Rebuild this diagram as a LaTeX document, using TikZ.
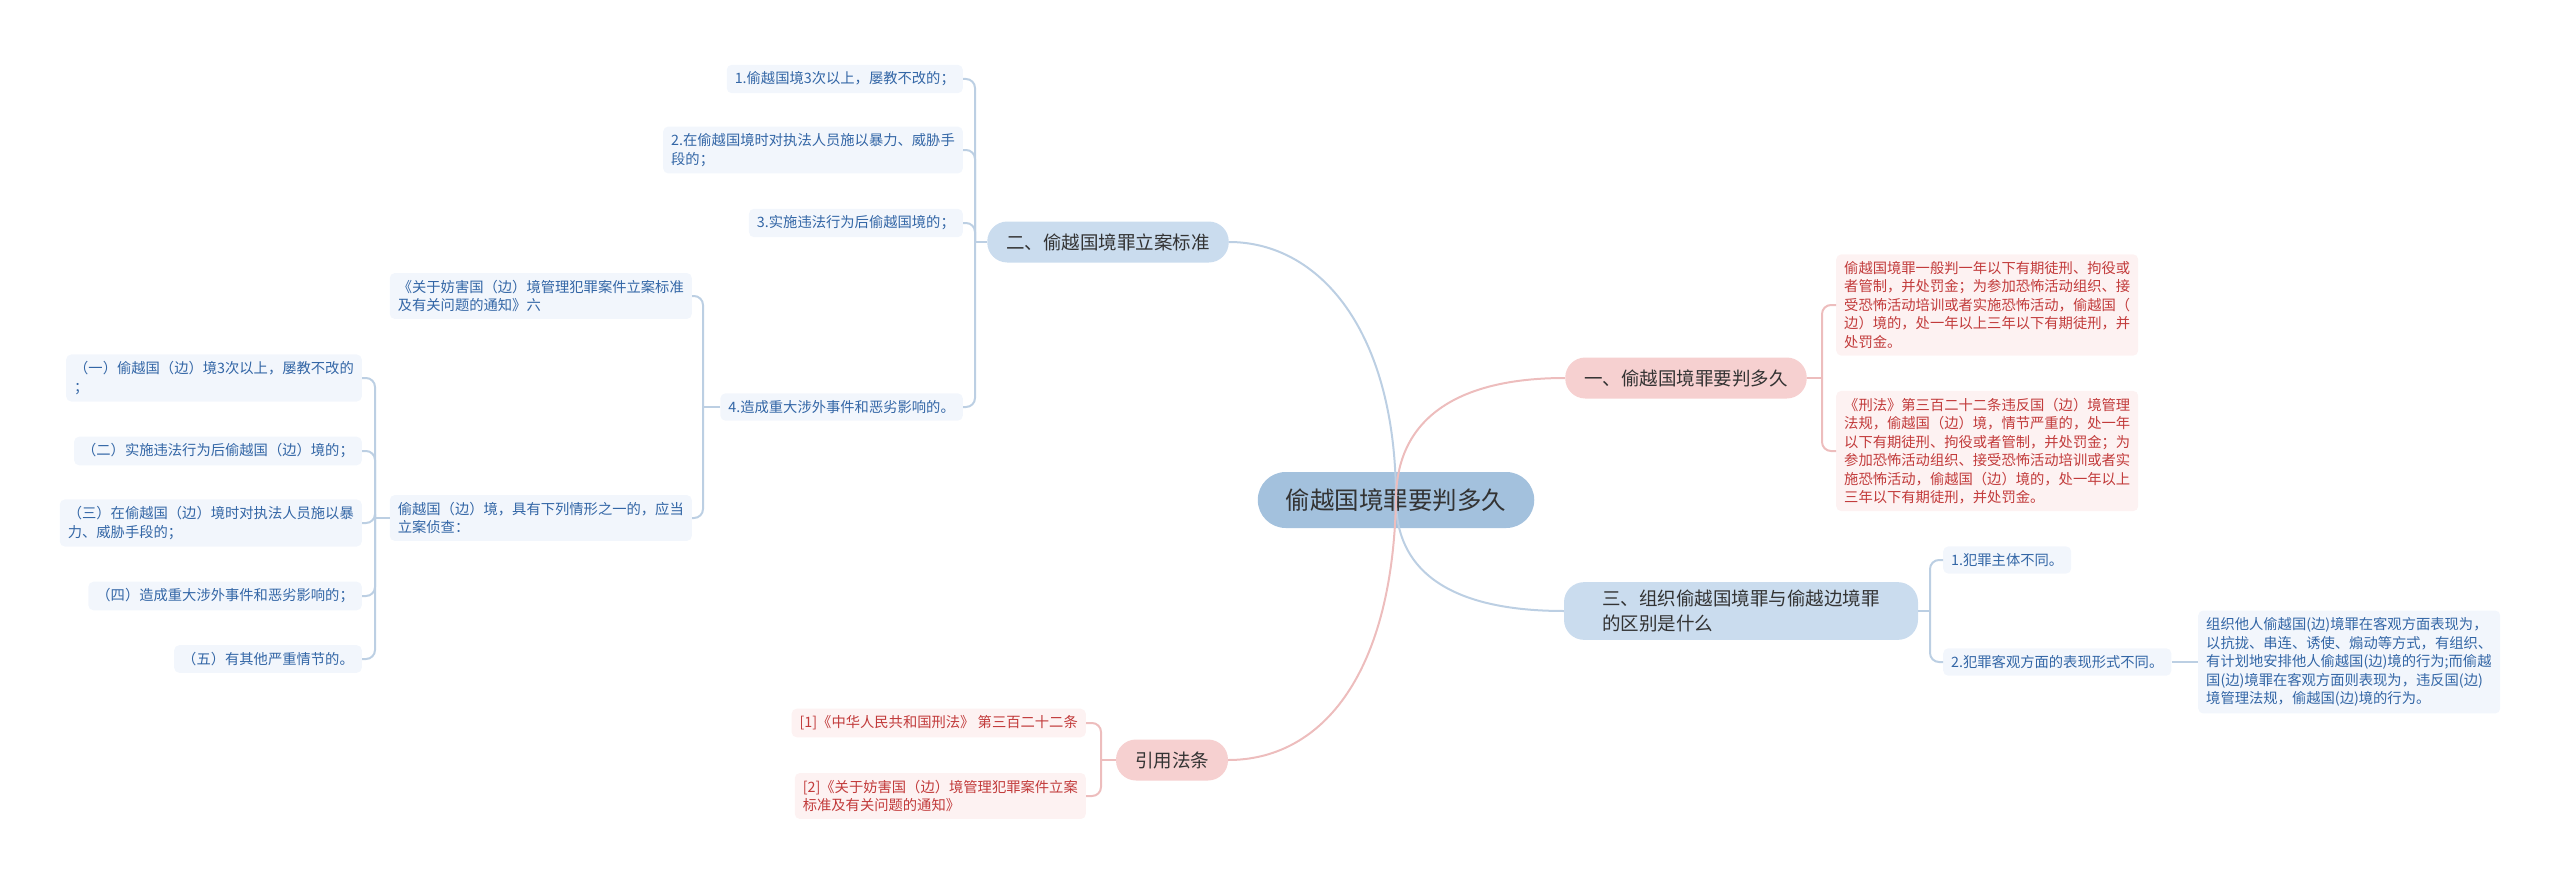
\documentclass[tikz,border=0pt]{standalone}
\usepackage{fontspec}
\setmainfont{Noto Sans CJK SC}
\definecolor{rootfill}{HTML}{A3C1DD}
\definecolor{lbluefill}{HTML}{CADCEE}
\definecolor{lpinkfill}{HTML}{F6D0D0}
\definecolor{leafblue}{HTML}{F2F6FC}
\definecolor{leafpink}{HTML}{FDF2F2}
\definecolor{txtblue}{HTML}{3366A6}
\definecolor{txtpink}{HTML}{C23B3B}
\definecolor{txtdark}{HTML}{333333}
\definecolor{blueline}{HTML}{BCCFE3}
\definecolor{pinkline}{HTML}{EDBDBD}
\tikzset{
  rootnode/.style={fill=rootfill, text=txtdark, rounded corners=28pt, minimum height=56pt, inner xsep=28pt, font=\fontsize{24.5}{30}\selectfont},
  lone/.style={rounded corners=20pt, minimum height=41pt, inner xsep=19pt, inner ysep=8pt, text=txtdark, font=\fontsize{18.5}{24.5}\selectfont, align=left},
  bone/.style={lone, fill=lbluefill},
  pone/.style={lone, fill=lpinkfill},
  leaf/.style={rounded corners=5pt, inner xsep=8pt, inner ysep=7pt, font=\fontsize{14.3}{18.5}\selectfont, align=left},
  bleaf/.style={leaf, fill=leafblue, text=txtblue},
  pleaf/.style={leaf, fill=leafpink, text=txtpink},
  bline/.style={draw=blueline, line width=2pt},
  pline/.style={draw=pinkline, line width=2pt},
  elbow/.style={rounded corners=9pt},
}
\begin{document}
\begin{tikzpicture}[x=1pt,y=-1pt]
\useasboundingbox (0,0) rectangle (2560,883);
% root and level 1
\node[rootnode] (root) at (1396,500) {偷越国境罪要判多久};
\node[bone] (s2) at (1108,242) {二、偷越国境罪立案标准};
\node[pone] (s1) at (1686,378) {一、偷越国境罪要判多久};
\node[bone, minimum width=354pt, inner xsep=35pt] (s3) at (1741,611) {三、组织偷越国境罪与偷越边境罪\\的区别是什么};
\node[pone] (s4) at (1172,760) {引用法条};
% level 2 under s2
\node[bleaf, anchor=east] (n1) at (963,79) {1.偷越国境3次以上，屡教不改的；};
\node[bleaf, anchor=east] (n2) at (963,150) {2.在偷越国境时对执法人员施以暴力、威胁手\\段的；};
\node[bleaf, anchor=east] (n3) at (963,223) {3.实施违法行为后偷越国境的；};
\node[bleaf, anchor=east] (n4) at (963,407) {4.造成重大涉外事件和恶劣影响的。};
% level 3 under n4
\node[bleaf, anchor=east] (m1) at (692,296) {《关于妨害国（边）境管理犯罪案件立案标准\\及有关问题的通知》六};
\node[bleaf, anchor=east] (m2) at (692,518) {偷越国（边）境，具有下列情形之一的，应当\\立案侦查：};
% level 4 under m2
\node[bleaf, anchor=east] (k1) at (362,378) {（一）偷越国（边）境3次以上，屡教不改的\\；};
\node[bleaf, anchor=east] (k2) at (362,451) {（二）实施违法行为后偷越国（边）境的；};
\node[bleaf, anchor=east] (k3) at (362,523) {（三）在偷越国（边）境时对执法人员施以暴\\力、威胁手段的；};
\node[bleaf, anchor=east] (k4) at (362,596) {（四）造成重大涉外事件和恶劣影响的；};
\node[bleaf, anchor=east] (k5) at (362,659) {（五）有其他严重情节的。};
% under s1
\node[pleaf, anchor=west] (p1) at (1836,305) {偷越国境罪一般判一年以下有期徒刑、拘役或\\者管制，并处罚金；为参加恐怖活动组织、接\\受恐怖活动培训或者实施恐怖活动，偷越国（\\边）境的，处一年以上三年以下有期徒刑，并\\处罚金。};
\node[pleaf, anchor=west] (p2) at (1836,451) {《刑法》第三百二十二条违反国（边）境管理\\法规，偷越国（边）境，情节严重的，处一年\\以下有期徒刑、拘役或者管制，并处罚金；为\\参加恐怖活动组织、接受恐怖活动培训或者实\\施恐怖活动，偷越国（边）境的，处一年以上\\三年以下有期徒刑，并处罚金。};
% under s3
\node[bleaf, anchor=west] (t1) at (1943,560) {1.犯罪主体不同。};
\node[bleaf, anchor=west] (t2) at (1943,662) {2.犯罪客观方面的表现形式不同。};
\node[bleaf, anchor=west] (t3) at (2198,662) {组织他人偷越国(边)境罪在客观方面表现为，\\以抗拢、串连、诱使、煽动等方式，有组织、\\有计划地安排他人偷越国(边)境的行为;而偷越\\国(边)境罪在客观方面则表现为，违反国(边)\\境管理法规，偷越国(边)境的行为。};
% under s4
\node[pleaf, anchor=east] (r1) at (1086,723) {[1]《中华人民共和国刑法》 第三百二十二条};
\node[pleaf, anchor=east] (r2) at (1086,796) {[2]《关于妨害国（边）境管理犯罪案件立案\\标准及有关问题的通知》};
% junction x positions
\coordinate (x2) at (975,0);
\coordinate (x4) at (703,0);
\coordinate (xm) at (375,0);
\coordinate (x1) at (1822,0);
\coordinate (x3) at (1930,0);
\coordinate (xr) at (1101,0);
\coordinate (j2) at (s2.west -| x2);
\coordinate (j4) at (n4.west -| x4);
\coordinate (jm) at (m2.west -| xm);
\coordinate (j1) at (s1.east -| x1);
\coordinate (j3) at (s3.east -| x3);
\coordinate (jr) at (s4.west -| xr);
% elbow connectors
\draw[bline] (s2.west) -- (j2);
\foreach \c in {n1,n2,n3,n4} \draw[bline, elbow] (j2) |- (\c.east);
\draw[bline] (n4.west) -- (j4);
\foreach \c in {m1,m2} \draw[bline, elbow] (j4) |- (\c.east);
\draw[bline] (m2.west) -- (jm);
\foreach \c in {k1,k2,k3,k4,k5} \draw[bline, elbow] (jm) |- (\c.east);
\draw[pline] (s1.east) -- (j1);
\foreach \c in {p1,p2} \draw[pline, elbow] (j1) |- (\c.west);
\draw[bline] (s3.east) -- (j3);
\foreach \c in {t1,t2} \draw[bline, elbow] (j3) |- (\c.west);
\draw[bline] (t2.east) -- (t3.west);
\draw[pline] (s4.west) -- (jr);
\foreach \c in {r1,r2} \draw[pline, elbow] (jr) |- (\c.east);
% root curves
\draw[bline] (root.center) .. controls +(0,-170) and +(90,0) .. (s2.east);
\draw[pline] (root.center) .. controls +(0,-80) and +(-110,0) .. (s1.west);
\draw[bline] (root.center) .. controls +(0,80) and +(-100,0) .. (s3.west);
\draw[pline] (root.center) .. controls +(-4,180) and +(90,0) .. (s4.east);
\end{tikzpicture}
\end{document}
